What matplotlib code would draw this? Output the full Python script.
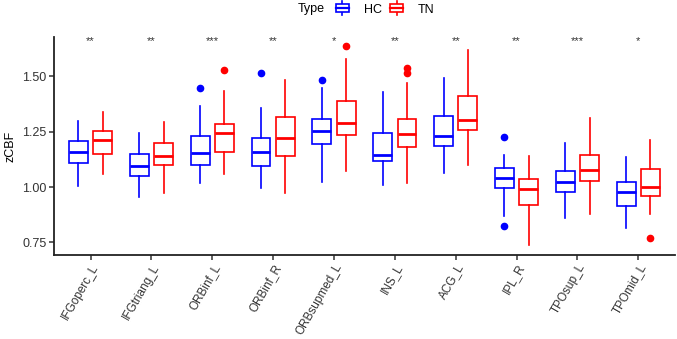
import matplotlib
matplotlib.use("Agg")
import matplotlib.pyplot as plt
from matplotlib.patches import Patch, Rectangle
from matplotlib.lines import Line2D
from matplotlib.legend_handler import HandlerBase

categories = ["IFGoperc_L", "IFGtriang_L", "ORBinf_L", "ORBinf_R", "ORBsupmed_L",
              "INS_L", "ACG_L", "IPL_R", "TPOsup_L", "TPOmid_L"]
stars = ["**", "**", "***", "**", "*", "**", "**", "**", "***", "*"]

hc_whislo = [1.006, 0.956, 1.019, 0.995, 1.024, 1.008, 1.062, 0.869, 0.862, 0.817]
hc_q1     = [1.108, 1.048, 1.099, 1.096, 1.194, 1.116, 1.185, 0.994, 0.979, 0.914]
hc_med    = [1.158, 1.095, 1.155, 1.158, 1.251, 1.146, 1.230, 1.041, 1.023, 0.977]
hc_q3     = [1.207, 1.147, 1.228, 1.222, 1.308, 1.243, 1.321, 1.084, 1.071, 1.024]
hc_whishi = [1.299, 1.242, 1.366, 1.357, 1.447, 1.427, 1.490, 1.146, 1.200, 1.137]
hc_out    = [[], [], [1.446], [1.512], [1.480], [], [], [1.225, 0.826], [], []]

tn_whislo = [1.057, 0.974, 1.059, 0.971, 1.071, 1.019, 1.099, 0.739, 0.877, 0.877]
tn_q1     = [1.150, 1.098, 1.159, 1.140, 1.234, 1.180, 1.255, 0.919, 1.027, 0.959]
tn_med    = [1.210, 1.140, 1.243, 1.219, 1.290, 1.239, 1.302, 0.990, 1.075, 0.999]
tn_q3     = [1.254, 1.197, 1.285, 1.314, 1.389, 1.305, 1.411, 1.037, 1.144, 1.081]
tn_whishi = [1.336, 1.291, 1.431, 1.482, 1.575, 1.470, 1.616, 1.140, 1.309, 1.210]
tn_out    = [[], [], [1.527], [], [1.634], [1.535, 1.512], [], [], [], [0.769]]

groups = ["HC", "TN"]
colors = {"HC": "#0000FF", "TN": "#FF0000"}
star_y = 1.659

plt.rcParams['font.family'] = ['Liberation Sans', 'DejaVu Sans']

fig = plt.figure(figsize=(6.77, 3.39), dpi=100)
ax = fig.add_axes([0.0798, 0.248, 0.917, 0.643])


def make_stats(lo, q1, med, q3, hi, out):
    return [dict(whislo=a, q1=b, med=c, q3=d, whishi=e, fliers=f)
            for a, b, c, d, e, f in zip(lo, q1, med, q3, hi, out)]


data = {
    "HC": make_stats(hc_whislo, hc_q1, hc_med, hc_q3, hc_whishi, hc_out),
    "TN": make_stats(tn_whislo, tn_q1, tn_med, tn_q3, tn_whishi, tn_out),
}
offsets = {"HC": -0.2, "TN": 0.2}
base = list(range(1, len(categories) + 1))

for g in groups:
    c = colors[g]
    ax.bxp(data[g], positions=[p + offsets[g] for p in base], widths=0.31,
           showcaps=False, patch_artist=True, manage_ticks=False,
           boxprops=dict(facecolor="white", edgecolor=c, linewidth=1.2),
           whiskerprops=dict(color=c, linewidth=1.2),
           medianprops=dict(color=c, linewidth=2.0),
           flierprops=dict(marker="o", markerfacecolor=c, markeredgecolor=c,
                           markersize=4.5, linestyle="none"))

for p, s in zip(base, stars):
    ax.text(p, star_y, s, ha="center", va="center", fontsize=8, color="#333333")

ax.set_xlim(0.4, len(categories) + 0.6)
ax.set_ylim(0.694, 1.676)
ax.set_xticks(base)
ax.set_xticklabels(categories, rotation=60, ha="right", rotation_mode="anchor",
                   fontsize=8.5, color="#333333")
ax.set_yticks([0.75, 1.00, 1.25, 1.50])
ax.set_yticklabels(["0.75", "1.00", "1.25", "1.50"], fontsize=9, color="#333333")
ax.set_ylabel("zCBF", fontsize=9, labelpad=4)
for sp in ["top", "right"]:
    ax.spines[sp].set_visible(False)
for sp in ["left", "bottom"]:
    ax.spines[sp].set_linewidth(1.3)
    ax.spines[sp].set_color("#222222")
ax.tick_params(axis="both", length=3.5, width=1.1, color="#333333", pad=2)
ax.tick_params(axis="x", pad=1.5)


class BoxHandler(HandlerBase):
    def create_artists(self, legend, orig_handle, xdescent, ydescent,
                       width, height, fontsize, trans):
        c = orig_handle.get_edgecolor()
        x0, y0 = -xdescent, -ydescent
        rect = Rectangle((x0, y0 + 0.1 * height), width, 0.8 * height,
                         facecolor="white", edgecolor=c, linewidth=1.2, transform=trans)
        med = Line2D([x0, x0 + width], [y0 + 0.5 * height] * 2,
                     color=c, linewidth=1.6, transform=trans)
        w1 = Line2D([x0 + 0.5 * width] * 2, [y0 - 0.25 * height, y0 + 0.1 * height],
                    color=c, linewidth=1.2, transform=trans)
        w2 = Line2D([x0 + 0.5 * width] * 2, [y0 + 0.9 * height, y0 + 1.25 * height],
                    color=c, linewidth=1.2, transform=trans)
        return [w1, w2, rect, med]


handles = [Patch(edgecolor=colors[g], facecolor="white", label=g) for g in groups]
leg = fig.legend(handles=handles, loc="center left", bbox_to_anchor=(0.480, 0.972),
                 ncol=2, frameon=False, fontsize=9, handler_map={Patch: BoxHandler()},
                 handlelength=1.0, handleheight=0.8, handletextpad=1.2, columnspacing=0.7)
fig.text(0.440, 0.972, "Type", ha="left", va="center", fontsize=9)

fig.savefig("out.png", dpi=100)
